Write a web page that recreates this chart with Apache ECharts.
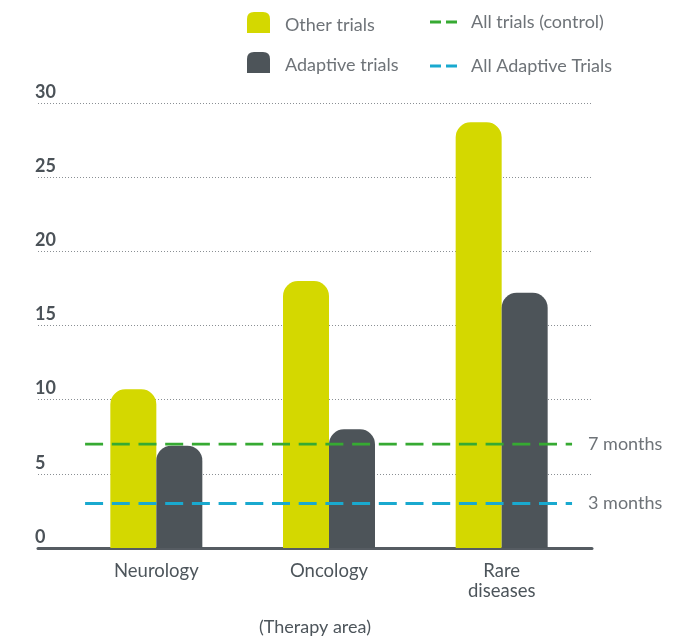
<!DOCTYPE html>
<html><head><meta charset="utf-8">
<script src="https://cdn.jsdelivr.net/npm/echarts@6/dist/echarts.min.js"></script>
<style>html,body{margin:0;padding:0;background:#fff}#c{width:697px;height:637px}</style>
</head><body><div id="c"></div>
<script>
var categories = ['Neurology', 'Oncology', 'Rare\ndiseases'];
var otherTrials = [10.7, 18.0, 28.7];
var adaptiveTrials = [6.9, 8.0, 17.2];
var controlMonths = 7;
var adaptiveMonths = 3;
var refSpan = [8.5, 96.4];
var yTicks = [0, 5, 10, 15, 20, 25, 30];

var font = 'Lato, "Open Sans", sans-serif';
var chart = echarts.init(document.getElementById('c'));
var barIcon = 'path://M0,7 Q0,0 7,0 L16,0 Q23,0 23,7 L23,21 L0,21 Z M0,27 L0.01,27 L0,27 Z';
var dashIcon = 'path://M0,0 L11,0 L11,3 L0,3 Z M16,0 L27,0 L27,3 L16,3 Z';
chart.setOption({
  animation: false,
  textStyle: { fontFamily: font },
  grid: [
    { left: 70, right: 109, top: 103, bottom: 89, outerBoundsMode: 'none', containLabel: false },
    { left: 38, right: 105, top: 103, bottom: 89, outerBoundsMode: 'none', containLabel: false }
  ],
  legend: [
    { left: 247, top: 12, padding: 0, orient: 'vertical', itemWidth: 23, itemHeight: 27, itemGap: 13,
      icon: barIcon, data: ['Other trials', 'Adaptive trials'],
      textStyle: { color: '#6e7378', fontSize: 18, padding: [0, 0, 0, 10], fontFamily: font } },
    { left: 430, top: 13, padding: 0, orient: 'vertical', itemWidth: 27, itemHeight: 3, itemGap: 26,
      icon: dashIcon, data: ['All trials (control)', 'All Adaptive Trials'],
      textStyle: { color: '#6e7378', fontSize: 18, padding: [0, 0, 0, 9], fontFamily: font } }
  ],
  xAxis: [
    { type: 'category', gridIndex: 0, data: categories,
      axisLine: { show: false }, axisTick: { show: false },
      axisLabel: { color: '#4d555b', fontSize: 18.5, margin: 13, lineHeight: 20, fontFamily: font } },
    { type: 'value', gridIndex: 1, min: 0, max: 100,
      name: '(Therapy area)', nameLocation: 'middle', nameGap: 70,
      nameTextStyle: { color: '#4d555b', fontSize: 18, fontFamily: font },
      axisLine: { show: true, onZero: false, lineStyle: { color: '#565c62', width: 3 } },
      axisTick: { show: false }, axisLabel: { show: false }, splitLine: { show: false } }
  ],
  yAxis: [
    { type: 'value', gridIndex: 0, min: 0, max: 30, interval: 5, show: false },
    { type: 'value', gridIndex: 1, min: 0, max: 30, interval: 5,
      axisLine: { show: false }, axisTick: { show: false },
      axisLabel: { inside: true, margin: -3, align: 'left', verticalAlign: 'bottom',
        padding: [0, 0, 2, 0],
        color: '#4b5258', fontSize: 18, fontWeight: 'bold', fontFamily: font,
        formatter: function (v) { return yTicks.indexOf(v) >= 0 ? String(v) : ''; } },
      splitLine: { show: true, lineStyle: { color: '#8a8f94', type: [1, 2], width: 1 } } }
  ],
  series: [
    { name: 'Other trials', type: 'bar', xAxisIndex: 0, yAxisIndex: 0, data: otherTrials,
      barWidth: 46, barGap: '0%', itemStyle: { color: '#d4d800', borderRadius: [15, 15, 0, 0] } },
    { name: 'Adaptive trials', type: 'bar', xAxisIndex: 0, yAxisIndex: 0, data: adaptiveTrials,
      barWidth: 46, barGap: '0%', itemStyle: { color: '#4d5459', borderRadius: [15, 15, 0, 0] } },
    { name: 'All trials (control)', type: 'line', xAxisIndex: 1, yAxisIndex: 1, z: 5,
      data: [[refSpan[0], controlMonths], [refSpan[1], controlMonths]],
      symbol: 'none', itemStyle: { color: '#36aa32' },
      lineStyle: { color: '#36aa32', width: 2.8, type: [18, 8.7] },
      endLabel: { show: true, formatter: controlMonths + ' months', distance: 16,
        color: '#6e7378', fontSize: 18, fontFamily: font } },
    { name: 'All Adaptive Trials', type: 'line', xAxisIndex: 1, yAxisIndex: 1, z: 5,
      data: [[refSpan[0], adaptiveMonths], [refSpan[1], adaptiveMonths]],
      symbol: 'none', itemStyle: { color: '#19a9cf' },
      lineStyle: { color: '#19a9cf', width: 2.8, type: [18, 8.7] },
      endLabel: { show: true, formatter: adaptiveMonths + ' months', distance: 16,
        color: '#6e7378', fontSize: 18, fontFamily: font } }
  ]
});
</script></body></html>
